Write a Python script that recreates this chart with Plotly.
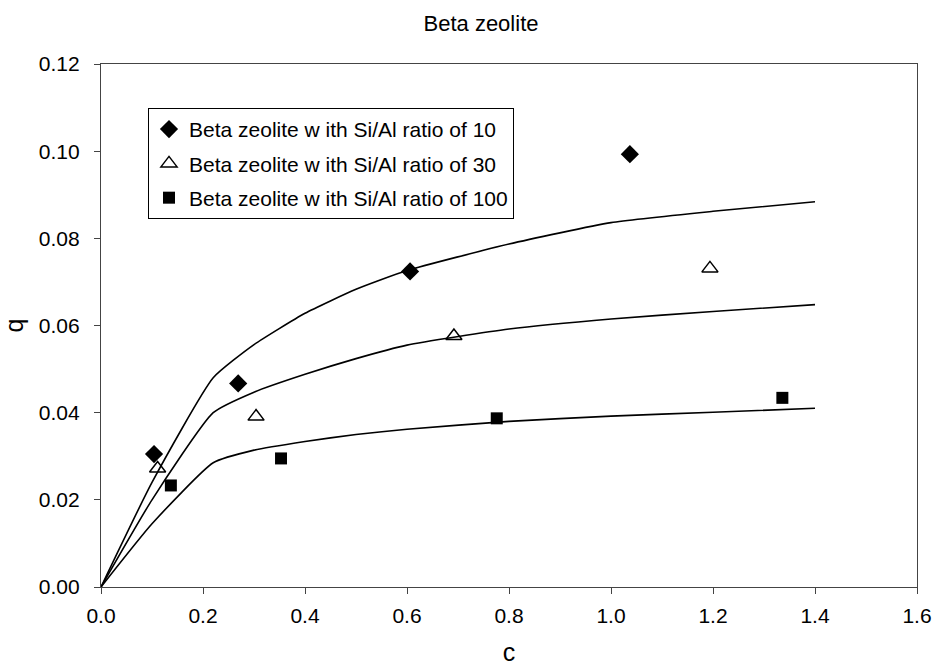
import plotly.graph_objects as go

# Experimental isotherm points (c, q) for each Si/Al ratio
c_si10 = [0.104, 0.269, 0.606, 1.037]
q_si10 = [0.0305, 0.0467, 0.0724, 0.0993]

c_si30 = [0.111, 0.304, 0.692, 1.194]
q_si30 = [0.0272, 0.0391, 0.0576, 0.0731]

c_si100 = [0.137, 0.353, 0.776, 1.336]
q_si100 = [0.0233, 0.0295, 0.0387, 0.0434]

# Fitted model curves, tabulated
c_fit = [0.0, 0.1, 0.22, 0.3, 0.4, 0.5, 0.6, 0.8, 1.0, 1.2, 1.4]
q_fit_si10 = [0.0, 0.0240, 0.0480, 0.0556, 0.0628, 0.0683, 0.0726, 0.0787, 0.0836, 0.0862, 0.0884]
q_fit_si30 = [0.0, 0.0200, 0.0400, 0.0447, 0.0488, 0.0524, 0.0555, 0.0592, 0.0615, 0.0632, 0.0648]
q_fit_si100 = [0.0, 0.0145, 0.0285, 0.0314, 0.0334, 0.0350, 0.0362, 0.0380, 0.0392, 0.0401, 0.0410]

x_ticks = [0.0, 0.2, 0.4, 0.6, 0.8, 1.0, 1.2, 1.4, 1.6]
y_ticks = [0.00, 0.02, 0.04, 0.06, 0.08, 0.10, 0.12]

labels = [
    "Beta zeolite w ith Si/Al ratio of 10",
    "Beta zeolite w ith Si/Al ratio of 30",
    "Beta zeolite w ith Si/Al ratio of 100",
]

FONT = "Liberation Sans, Arial, sans-serif"

fig = go.Figure()

for q_fit in (q_fit_si10, q_fit_si30, q_fit_si100):
    fig.add_trace(go.Scatter(
        x=c_fit, y=q_fit, mode="lines", line_shape="spline",
        line=dict(color="black", width=1.6, smoothing=0.5),
        showlegend=False, hoverinfo="skip",
    ))

fig.add_trace(go.Scatter(
    x=c_si10, y=q_si10, mode="markers", name=labels[0], legendgroup="a",
    marker=dict(symbol="diamond", size=14, color="black"),
))
fig.add_trace(go.Scatter(
    x=c_si30, y=q_si30, mode="markers", name=labels[1], legendgroup="b",
    marker=dict(symbol="triangle-up-open", size=14, color="black",
                line=dict(color="black", width=1.5)),
))
fig.add_trace(go.Scatter(
    x=c_si100, y=q_si100, mode="markers", name=labels[2], legendgroup="c",
    marker=dict(symbol="square", size=12, color="black"),
))

fig.update_layout(
    width=937, height=666,
    paper_bgcolor="white", plot_bgcolor="white",
    margin=dict(l=101, r=20, t=64, b=79, autoexpand=False),
    font=dict(family=FONT, size=21, color="black"),
    title=dict(text="Beta zeolite", x=481 / 937, xanchor="center",
               xref="container", y=1 - 23 / 666, yanchor="middle",
               yref="container", font=dict(size=22)),
    legend=dict(
        x=0.0576, y=0.916, xanchor="left", yanchor="top",
        bgcolor="white", bordercolor="black", borderwidth=1,
        font=dict(size=21), itemwidth=30, tracegroupgap=4,
    ),
)

fig.update_xaxes(
    range=[0, 1.6], tickvals=x_ticks,
    ticktext=[f"{v:.1f}" for v in x_ticks],
    showgrid=False, zeroline=False, automargin=False,
    showline=True, linecolor="#444", linewidth=1.3, mirror=True,
    ticks="outside", ticklen=6, tickcolor="#444", ticklabelstandoff=4,
    title=dict(text="c", standoff=22),
)
fig.update_yaxes(
    range=[0, 0.12], tickvals=y_ticks,
    ticktext=[f"{v:.2f}" for v in y_ticks],
    showgrid=False, zeroline=False, automargin=False,
    showline=True, linecolor="#444", linewidth=1.3, mirror=True,
    ticks="outside", ticklen=6, tickcolor="#444", ticklabelstandoff=10,
    title=dict(text="q", standoff=16),
)

fig.write_html("out.html")
